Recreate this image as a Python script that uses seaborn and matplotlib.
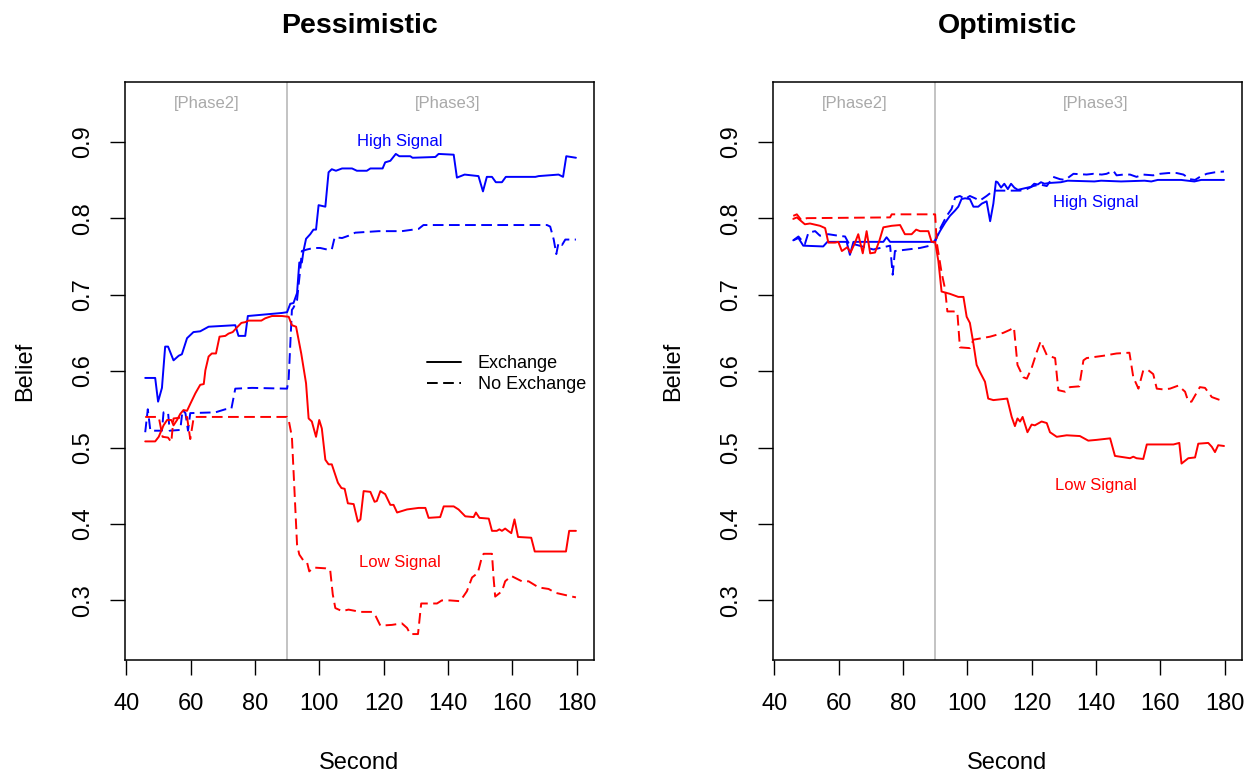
import matplotlib
matplotlib.use("Agg")
import matplotlib.pyplot as plt
from matplotlib.lines import Line2D
import pandas as pd
import seaborn as sns

# ---- data (Second, Belief) ----
PESS_HIGH_EX_X = [45.9, 49.0, 49.9, 51.1, 52.1, 53.0, 54.7, 56.3, 57.3, 58.9, 60.9, 63.0, 65.6, 73.9, 74.9, 77.0,
                  77.8, 88.4, 90.0, 91.0, 92.0, 93.1, 93.8, 94.6, 95.1, 95.9, 97.2, 98.2, 99.0, 99.8, 101.9, 102.9,
                  103.9, 105.2, 107.1, 110.2, 111.7, 114.8, 115.9, 119.7, 120.5, 122.1, 123.8, 124.9, 128.3, 129.0,
                  136.1, 137.1, 141.8, 142.8, 145.2, 149.5, 150.9, 152.1, 153.7, 154.9, 156.8, 158.0, 167.2, 168.2,
                  174.4, 175.8, 176.8, 179.8]
PESS_HIGH_EX_Y = [0.591, 0.591, 0.560, 0.578, 0.632, 0.632, 0.614, 0.620, 0.622, 0.643, 0.651, 0.652, 0.658, 0.660,
                  0.646, 0.646, 0.672, 0.676, 0.677, 0.688, 0.689, 0.702, 0.742, 0.742, 0.757, 0.773, 0.779, 0.785,
                  0.785, 0.817, 0.815, 0.860, 0.864, 0.862, 0.865, 0.865, 0.862, 0.862, 0.865, 0.865, 0.873, 0.875,
                  0.884, 0.881, 0.881, 0.879, 0.880, 0.884, 0.883, 0.853, 0.857, 0.855, 0.835, 0.854, 0.854, 0.847,
                  0.847, 0.854, 0.854, 0.855, 0.857, 0.854, 0.881, 0.879]

PESS_HIGH_NOEX_X = [45.9, 46.7, 47.5, 51.1, 51.6, 53.0, 53.5, 56.8, 57.5, 58.4, 59.2, 59.9, 67.7, 70.8, 72.7, 73.9,
                    79.1, 90.0, 90.5, 91.5, 92.0, 93.1, 94.1, 94.6, 96.2, 98.2, 100.3, 102.4, 103.9, 104.8, 107.1,
                    109.1, 111.2, 118.5, 125.7, 130.9, 132.4, 170.8, 171.8, 172.9, 173.7, 174.4, 175.5, 176.5, 179.8]
PESS_HIGH_NOEX_Y = [0.520, 0.550, 0.522, 0.522, 0.546, 0.546, 0.522, 0.523, 0.549, 0.545, 0.522, 0.545, 0.546,
                    0.550, 0.551, 0.577, 0.578, 0.577, 0.590, 0.680, 0.683, 0.693, 0.733, 0.757, 0.759, 0.761,
                    0.761, 0.759, 0.759, 0.775, 0.774, 0.777, 0.781, 0.783, 0.783, 0.786, 0.791, 0.791, 0.789,
                    0.772, 0.753, 0.768, 0.765, 0.772, 0.772]

PESS_LOW_EX_X = [45.9, 49.0, 50.1, 51.6, 52.7, 54.0, 54.7, 55.8, 56.8, 57.8, 58.9, 59.9, 61.5, 63.0, 64.1, 64.6,
                 65.6, 66.6, 67.9, 69.0, 70.8, 71.8, 73.1, 74.4, 75.8, 77.0, 78.0, 82.0, 83.2, 85.3, 88.4, 90.5,
                 91.5, 92.8, 94.4, 95.9, 96.7, 97.7, 99.0, 100.0, 100.8, 101.9, 102.9, 103.9, 105.8, 106.9, 107.9,
                 108.9, 110.7, 112.0, 112.8, 113.8, 115.9, 117.2, 117.9, 119.0, 120.5, 122.1, 123.1, 124.2, 127.3,
                 130.9, 133.0, 134.0, 137.6, 138.7, 141.8, 143.3, 145.4, 148.0, 148.7, 149.8, 152.7, 153.7, 155.2,
                 156.0, 156.8, 157.8, 158.7, 159.7, 160.7, 161.8, 165.9, 167.0, 176.7, 177.7, 179.8]
PESS_LOW_EX_Y = [0.508, 0.508, 0.514, 0.529, 0.536, 0.536, 0.529, 0.536, 0.544, 0.549, 0.548, 0.557, 0.571, 0.582,
                 0.583, 0.601, 0.619, 0.623, 0.623, 0.645, 0.646, 0.649, 0.651, 0.657, 0.663, 0.664, 0.666, 0.666,
                 0.669, 0.672, 0.672, 0.671, 0.660, 0.658, 0.623, 0.584, 0.538, 0.534, 0.514, 0.536, 0.525, 0.484,
                 0.478, 0.478, 0.454, 0.447, 0.446, 0.427, 0.426, 0.403, 0.406, 0.443, 0.442, 0.429, 0.430, 0.443,
                 0.439, 0.425, 0.425, 0.415, 0.419, 0.421, 0.421, 0.408, 0.409, 0.423, 0.423, 0.419, 0.410, 0.409,
                 0.415, 0.408, 0.407, 0.391, 0.391, 0.393, 0.391, 0.394, 0.391, 0.388, 0.406, 0.383, 0.382, 0.364,
                 0.364, 0.391, 0.391]

PESS_LOW_NOEX_X = [45.9, 50.1, 51.3, 53.0, 54.0, 54.7, 58.9, 59.9, 61.0, 90.0, 90.5, 91.5, 92.0, 92.5, 93.1, 93.8,
                   95.1, 96.2, 96.9, 98.2, 101.9, 103.4, 104.2, 105.0, 107.1, 109.1, 112.8, 116.4, 117.6, 119.0,
                   122.6, 125.7, 127.3, 128.3, 130.7, 131.7, 136.6, 138.1, 140.7, 143.8, 145.9, 147.5, 149.3,
                   150.4, 151.1, 153.7, 154.2, 154.7, 156.8, 157.8, 159.7, 163.0, 165.1, 168.2, 171.3, 173.4,
                   175.5, 178.6, 179.8]
PESS_LOW_NOEX_Y = [0.540, 0.540, 0.514, 0.513, 0.507, 0.538, 0.540, 0.511, 0.540, 0.540, 0.536, 0.514, 0.470,
                   0.426, 0.373, 0.360, 0.352, 0.350, 0.338, 0.343, 0.342, 0.340, 0.308, 0.290, 0.286, 0.288,
                   0.285, 0.285, 0.279, 0.267, 0.268, 0.270, 0.264, 0.256, 0.256, 0.296, 0.296, 0.300, 0.300,
                   0.299, 0.312, 0.330, 0.336, 0.354, 0.361, 0.361, 0.329, 0.305, 0.312, 0.325, 0.332, 0.325,
                   0.325, 0.317, 0.315, 0.310, 0.308, 0.305, 0.304]

OPT_HIGH_EX_X = [45.9, 47.5, 49.0, 55.2, 56.5, 62.5, 63.5, 64.6, 73.9, 74.9, 76.0, 90.0, 90.5, 91.5, 93.1, 94.6,
                 96.2, 97.2, 98.2, 99.3, 100.8, 101.9, 103.4, 104.5, 106.0, 107.1, 108.1, 108.9, 109.4, 110.5,
                 111.5, 112.6, 113.6, 114.6, 115.7, 119.8, 120.8, 121.9, 122.9, 124.0, 125.5, 129.1, 131.2, 139.5,
                 141.6, 147.8, 155.1, 157.2, 159.2, 166.5, 168.5, 170.6, 172.7, 179.8]
OPT_HIGH_EX_Y = [0.771, 0.774, 0.764, 0.763, 0.769, 0.769, 0.752, 0.769, 0.769, 0.775, 0.769, 0.769, 0.775, 0.783,
                 0.794, 0.803, 0.810, 0.815, 0.825, 0.826, 0.825, 0.815, 0.815, 0.819, 0.822, 0.796, 0.819, 0.848,
                 0.847, 0.840, 0.845, 0.838, 0.845, 0.840, 0.837, 0.841, 0.845, 0.844, 0.847, 0.845, 0.846, 0.847,
                 0.849, 0.848, 0.849, 0.848, 0.849, 0.848, 0.850, 0.850, 0.849, 0.848, 0.850, 0.850]

OPT_HIGH_NOEX_X = [45.9, 47.5, 49.5, 50.6, 52.7, 54.2, 56.8, 59.9, 62.0, 63.0, 70.8, 76.0, 76.8, 77.5, 85.3, 88.4,
                   90.0, 90.5, 91.5, 93.6, 95.1, 96.2, 97.7, 99.3, 100.8, 102.4, 103.9, 106.0, 108.1, 110.2, 112.2,
                   116.4, 118.5, 120.5, 122.6, 124.7, 126.7, 128.8, 130.4, 133.0, 137.1, 139.2, 141.8, 143.3,
                   145.4, 146.4, 148.5, 150.6, 152.6, 154.7, 157.8, 159.9, 162.5, 165.1, 167.2, 169.2, 170.8,
                   172.3, 174.4, 177.0, 179.8]
OPT_HIGH_NOEX_Y = [0.771, 0.776, 0.766, 0.781, 0.783, 0.777, 0.779, 0.777, 0.776, 0.768, 0.759, 0.764, 0.726,
                   0.757, 0.761, 0.764, 0.771, 0.776, 0.786, 0.803, 0.812, 0.827, 0.829, 0.825, 0.829, 0.826,
                   0.823, 0.829, 0.836, 0.836, 0.836, 0.836, 0.838, 0.842, 0.844, 0.842, 0.854, 0.851, 0.850,
                   0.858, 0.857, 0.858, 0.857, 0.858, 0.862, 0.856, 0.857, 0.857, 0.854, 0.857, 0.856, 0.858,
                   0.859, 0.859, 0.857, 0.851, 0.850, 0.854, 0.858, 0.860, 0.861]

OPT_LOW_EX_X = [45.9, 47.0, 49.5, 51.1, 54.2, 55.8, 56.8, 58.9, 59.9, 61.0, 62.7, 63.7, 65.1, 66.1, 67.5, 68.7,
                69.8, 71.3, 72.7, 73.9, 76.5, 79.1, 80.6, 82.7, 84.1, 85.3, 87.9, 88.9, 90.0, 91.0, 92.0, 94.6,
                97.2, 98.8, 99.8, 100.8, 101.9, 102.9, 103.9, 105.5, 106.5, 108.1, 112.4, 113.8, 114.8, 115.6,
                116.4, 117.2, 118.7, 120.0, 121.0, 123.1, 124.7, 125.7, 127.8, 130.9, 135.0, 137.6, 140.2, 144.4,
                145.9, 150.6, 151.6, 152.6, 154.7, 155.8, 164.1, 165.9, 166.6, 168.7, 170.8, 171.8, 174.9, 176.0,
                177.0, 178.0, 179.8]
OPT_LOW_EX_Y = [0.799, 0.801, 0.792, 0.793, 0.790, 0.787, 0.768, 0.768, 0.769, 0.757, 0.762, 0.755, 0.768, 0.779,
                0.754, 0.783, 0.754, 0.755, 0.771, 0.788, 0.790, 0.791, 0.779, 0.779, 0.785, 0.783, 0.783, 0.769,
                0.769, 0.744, 0.704, 0.701, 0.697, 0.697, 0.671, 0.663, 0.636, 0.608, 0.599, 0.586, 0.564, 0.562,
                0.564, 0.540, 0.528, 0.538, 0.534, 0.540, 0.520, 0.530, 0.529, 0.534, 0.532, 0.520, 0.514, 0.516,
                0.515, 0.509, 0.510, 0.512, 0.489, 0.486, 0.488, 0.486, 0.485, 0.504, 0.504, 0.506, 0.479, 0.486,
                0.487, 0.505, 0.506, 0.501, 0.494, 0.503, 0.502]

OPT_LOW_NOEX_X = [45.9, 47.0, 48.5, 50.1, 76.0, 76.5, 90.0, 90.5, 92.0, 93.1, 93.8, 95.7, 96.9, 97.7, 100.8, 101.9,
                  107.1, 111.2, 113.3, 114.5, 115.6, 117.4, 118.5, 120.0, 121.6, 122.8, 124.7, 127.3, 128.3, 130.4,
                  131.9, 134.8, 136.1, 137.1, 142.3, 146.4, 150.4, 151.6, 153.2, 154.7, 156.3, 157.8, 158.9, 160.9,
                  163.0, 165.6, 167.7, 168.7, 169.7, 172.3, 173.9, 176.0, 178.6, 179.8]
OPT_LOW_NOEX_Y = [0.803, 0.805, 0.797, 0.800, 0.801, 0.805, 0.805, 0.768, 0.729, 0.707, 0.678, 0.678, 0.677, 0.631,
                  0.630, 0.641, 0.645, 0.650, 0.654, 0.657, 0.608, 0.592, 0.590, 0.604, 0.625, 0.639, 0.621, 0.617,
                  0.575, 0.573, 0.579, 0.580, 0.614, 0.617, 0.620, 0.623, 0.624, 0.592, 0.577, 0.601, 0.601, 0.596,
                  0.577, 0.576, 0.577, 0.581, 0.573, 0.560, 0.560, 0.579, 0.578, 0.566, 0.562, 0.561]

PANEL_TITLES = ["Pessimistic", "Optimistic"]
X_TICKS = [40, 60, 80, 100, 120, 140, 160, 180]
Y_TICKS = [0.3, 0.4, 0.5, 0.6, 0.7, 0.8, 0.9]
PHASE_SPLIT = 90
PHASE_LABELS = ["[Phase2]", "[Phase3]"]
PHASE_LABEL_X = [65, 140]
PHASE_LABEL_Y = 0.95
# (x, y) of the "High Signal" / "Low Signal" annotations per panel
HIGH_LABEL_POS = [(125, 0.90), (140, 0.82)]
LOW_LABEL_POS = [(125, 0.35), (140, 0.45)]


def build_frame(series):
    rows = []
    for signal, cond, xs, ys in series:
        for x, y in zip(xs, ys):
            rows.append({"Second": x, "Belief": y, "Signal": signal, "Condition": cond})
    return pd.DataFrame(rows)


pess_df = build_frame([
    ("High", "Exchange", PESS_HIGH_EX_X, PESS_HIGH_EX_Y),
    ("High", "No Exchange", PESS_HIGH_NOEX_X, PESS_HIGH_NOEX_Y),
    ("Low", "Exchange", PESS_LOW_EX_X, PESS_LOW_EX_Y),
    ("Low", "No Exchange", PESS_LOW_NOEX_X, PESS_LOW_NOEX_Y),
])
opt_df = build_frame([
    ("High", "Exchange", OPT_HIGH_EX_X, OPT_HIGH_EX_Y),
    ("High", "No Exchange", OPT_HIGH_NOEX_X, OPT_HIGH_NOEX_Y),
    ("Low", "Exchange", OPT_LOW_EX_X, OPT_LOW_EX_Y),
    ("Low", "No Exchange", OPT_LOW_NOEX_X, OPT_LOW_NOEX_Y),
])

sns.set_theme(style="white")
plt.rcParams["font.family"] = ["Liberation Sans", "DejaVu Sans"]
plt.rcParams["text.color"] = "black"
plt.rcParams["axes.labelcolor"] = "black"

palette = {"High": "#0000FF", "Low": "#FF0000"}
dash_ne = (5.5, 2.8)
dashes = {"Exchange": "", "No Exchange": dash_ne}

fig = plt.figure(figsize=(12.47, 7.72), dpi=100)
axes = [fig.add_axes([0.1002, 0.145, 0.3761, 0.7487]),
        fig.add_axes([0.6199, 0.145, 0.3761, 0.7487])]

for i, (ax, df) in enumerate(zip(axes, [pess_df, opt_df])):
    ax.axvline(PHASE_SPLIT, color="#BEBEBE", lw=1.3, zorder=1)
    sns.lineplot(data=df, x="Second", y="Belief", hue="Signal", style="Condition",
                 palette=palette, dashes=dashes, estimator=None, sort=False,
                 linewidth=1.4, legend=False, ax=ax, zorder=3)
    ax.set_xlim(39.6, 185.4)
    ax.set_ylim(0.222, 0.978)
    ax.set_xticks(X_TICKS)
    ax.set_yticks(Y_TICKS)
    ax.set_xticklabels([str(t) for t in X_TICKS])
    ax.set_yticklabels([f"{t:.1f}" for t in Y_TICKS], rotation=90, va="center")
    ax.tick_params(axis="both", which="major", direction="out", length=11, width=1.0,
                   labelsize=17, color="black", labelcolor="black", bottom=True, left=True)
    ax.tick_params(axis="x", pad=13)
    ax.tick_params(axis="y", pad=11)
    for sp in ax.spines.values():
        sp.set_visible(True)
        sp.set_color("black")
        sp.set_linewidth(1.1)
    ax.grid(False)
    ax.set_xlabel("Second", fontsize=17, labelpad=26)
    ax.set_ylabel("Belief", fontsize=17, labelpad=26)
    ax.set_title(PANEL_TITLES[i], fontsize=20.5, fontweight="bold", pad=35, color="black")

    for lab, lx in zip(PHASE_LABELS, PHASE_LABEL_X):
        ax.text(lx, PHASE_LABEL_Y, lab, color="#A9A9A9", fontsize=12, ha="center", va="center")
    hx, hy = HIGH_LABEL_POS[i]
    ax.text(hx, hy, "High Signal", color="#0000FF", fontsize=12, ha="center", va="center")
    lx, ly = LOW_LABEL_POS[i]
    ax.text(lx, ly, "Low Signal", color="#FF0000", fontsize=12, ha="center", va="center")

handles = [Line2D([], [], color="black", lw=1.4),
           Line2D([], [], color="black", lw=1.4, dashes=dash_ne)]
axes[0].legend(handles, ["Exchange", "No Exchange"], loc="upper left",
               bbox_to_anchor=(0.644, 0.528), frameon=False, fontsize=13,
               handlelength=1.9, handletextpad=0.9, labelspacing=0.25,
               borderpad=0, borderaxespad=0)

fig.savefig("out.png", dpi=100)
